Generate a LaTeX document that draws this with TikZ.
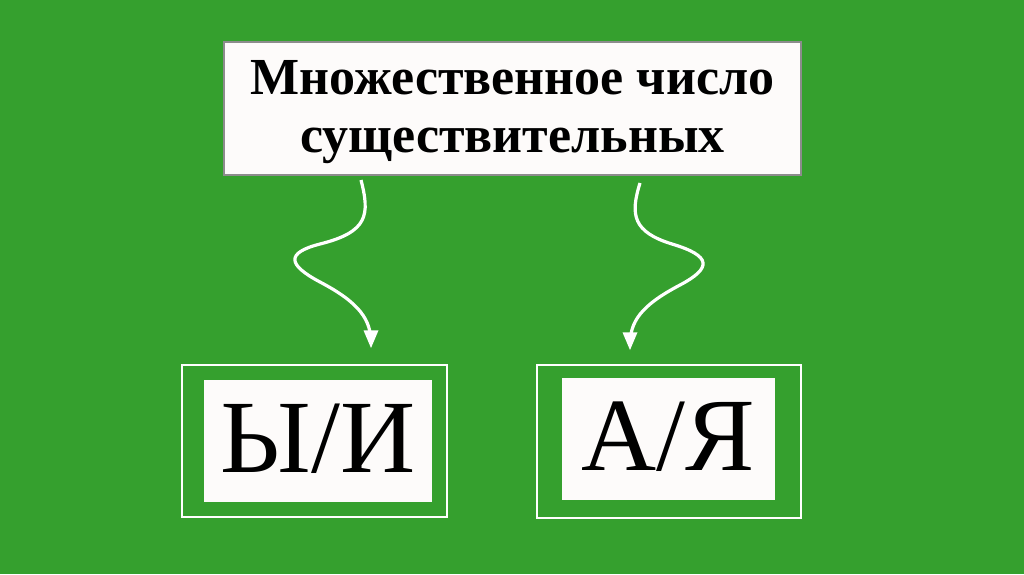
\documentclass[tikz,border=0pt]{standalone}
\usepackage{fontspec}
\setmainfont{Liberation Serif}
\usetikzlibrary{arrows}

\definecolor{slidegreen}{RGB}{53,160,46}
\definecolor{paper}{RGB}{253,251,250}
\definecolor{rimgray}{RGB}{140,140,140}

\begin{document}
\begin{tikzpicture}[x=1pt, y=-1pt, >=triangle 45,
  titlebox/.style={draw=rimgray, line width=1.2pt, fill=paper, inner sep=0pt},
  titletext/.style={inner sep=0pt, align=center, font=\fontsize{52}{58}\selectfont\bfseries},
  frame/.style={draw=white, line width=2pt, inner sep=0pt},
  endbox/.style={fill=paper, inner sep=0pt, font=\fontsize{104}{110}\selectfont},
  wave/.style={draw=white, line width=3.2pt, ->}]

% background
\fill[slidegreen] (0,0) rectangle (1024,574);
\useasboundingbox (0,0) rectangle (1024,574);

\node[titlebox, minimum width=577pt, minimum height=133pt] (T) at (512.5,108.5) {};
\node[titletext] (Tt) at (512.5,112) {Множественное число\\существительных};

% endings
\node[frame, minimum width=265pt, minimum height=152pt] (L) at (314,441) {};
\node[endbox, minimum width=228pt, minimum height=122pt] (Li) at (318,441) {\raisebox{5pt}{Ы/И}};

\node[frame, minimum width=264pt, minimum height=153pt] (R) at (669,441.5) {};
\node[endbox, minimum width=213pt, minimum height=122pt] (Ri) at (668.5,439) {\raisebox{5pt}{А/Я}};

% wavy arrows
\coordinate (L0) at (361,180);
\coordinate (L1) at (371,348);
\coordinate (R0) at (640,183);
\coordinate (R1) at (630,350);

\draw[wave] (L0) .. controls (370,215) and (368,232) .. (320,244)
  .. controls (285,253) and (288,265) .. (320,282)
  .. controls (360,303) and (371,320) .. (L1);
\draw[wave] (R0) .. controls (630,215) and (633,232) .. (672,244)
  .. controls (712,256) and (712,268) .. (680,285)
  .. controls (640,306) and (630,322) .. (R1);

\end{tikzpicture}
\end{document}
